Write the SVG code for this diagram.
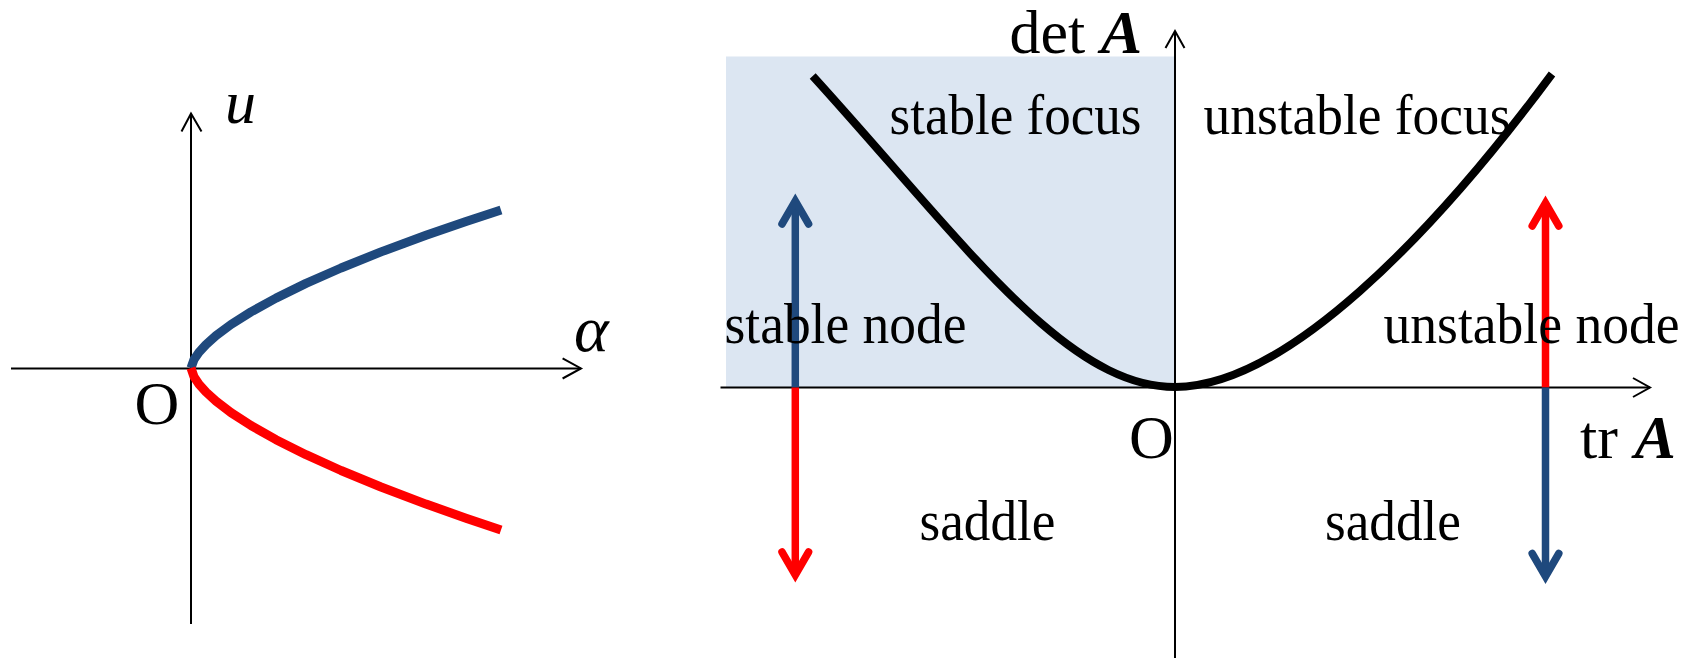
<svg xmlns="http://www.w3.org/2000/svg" width="1689" height="658" viewBox="0 0 1689 658">
<style>
.ax{stroke:#000;stroke-width:2;fill:none}
.ah{stroke:#000;stroke-width:2;fill:none;stroke-linejoin:miter}
.t{font-family:"Liberation Serif","Times New Roman",serif;fill:#000}
.lab{font-size:57px}
.big{font-size:62px}
.it{font-style:italic}
.bi{font-style:italic;font-weight:bold}
.blue{stroke:#1F497D}
.red{stroke:#FF0000}
.cv{fill:none;stroke-width:9;stroke-linejoin:round}
.sh{fill:none;stroke-width:7.5;stroke-linecap:butt}
.hd{fill:none;stroke-width:7.5;stroke-linecap:round;stroke-linejoin:miter}
</style>
<rect width="1689" height="658" fill="#fff"/>

<g id="left-panel">
  <g id="left-axes">
    <line class="ax" x1="11" y1="368.5" x2="581" y2="368.5"/>
    <polyline class="ah" points="562.6,358.3 581,368.5 562.6,378.5"/>
    <line class="ax" x1="191" y1="624" x2="191" y2="113.5"/>
    <polyline class="ah" points="181.5,131.5 191,113.5 201.5,131.5"/>
  </g>
  <g id="blue-branch">
    <polyline class="cv blue" points="191,368 194,359.5 199,352.2 206,344.6 216,335.7 231,324.5 251,311.9 276,298.1 306,283.4 341,268 381,251.9 426,235.3 466,221.5 501,210"/>
  </g>
  <g id="red-branch">
    <polyline class="cv red" points="191,368 194,376.7 199,384.2 206,392 216,401.1 231,412.6 251,425.5 276,439.7 306,454.7 341,470.5 381,487 426,504.1 466,518.2 501,530"/>
  </g>
  <text class="t big it" x="225" y="123">u</text>
  <text class="t it" font-size="66" x="574" y="351">α</text>
  <text class="t big" x="134.5" y="423.5">O</text>
</g>

<g id="right-panel">
  <rect id="stable-region" x="726" y="56.5" width="449" height="331" fill="#DCE6F2"/>
  <g id="right-axes">
    <line class="ax" x1="720.5" y1="387.5" x2="1650" y2="387.5"/>
    <polyline class="ah" points="1633,378 1650,387.5 1633,397"/>
    <line class="ax" x1="1175" y1="658" x2="1175" y2="31"/>
    <polyline class="ah" points="1165.5,48 1175,31 1184.5,48"/>
  </g>
  <g id="boundary-curve">
    <path d="M812.7,76 C962.7,241 1065,387 1175,387 C1285,387 1432,236 1552,74" fill="none" stroke="#000" stroke-width="8"/>
  </g>
  <g id="connectors">
    <g id="left-arrows">
      <line class="sh blue" x1="795.3" y1="387.5" x2="795.3" y2="202"/>
      <polyline class="hd blue" points="782,224 795.3,201 808.6,224"/>
      <line class="sh red" x1="795.3" y1="387.5" x2="795.3" y2="574"/>
      <polyline class="hd red" points="782,552 795.3,575 808.6,552"/>
    </g>
    <g id="right-arrows">
      <line class="sh red" x1="1545.5" y1="387.5" x2="1545.5" y2="204"/>
      <polyline class="hd red" points="1532.2,226 1545.5,203 1558.8,226"/>
      <line class="sh blue" x1="1545.5" y1="387.5" x2="1545.5" y2="576"/>
      <polyline class="hd blue" points="1532.2,553.5 1545.5,576.5 1558.8,553.5"/>
    </g>
  </g>
  <g id="labels">
    <text class="t big" x="1009.5" y="52.5">det <tspan class="bi">A</tspan></text>
    <text class="t big" x="1580" y="457.5">tr<tspan class="bi" x="1634.5">A</tspan></text>
    <text class="t big" x="1129" y="458">O</text>
    <text class="t lab" x="889.5" y="134.3" textLength="252" lengthAdjust="spacingAndGlyphs">stable focus</text>
    <text class="t lab" x="1203.5" y="133.5" textLength="307" lengthAdjust="spacingAndGlyphs">unstable focus</text>
    <text class="t lab" x="724.5" y="343.3" textLength="242" lengthAdjust="spacingAndGlyphs">stable node</text>
    <text class="t lab" x="1383.5" y="343.3" textLength="296" lengthAdjust="spacingAndGlyphs">unstable node</text>
    <text class="t lab" x="919.5" y="540" textLength="136" lengthAdjust="spacingAndGlyphs">saddle</text>
    <text class="t lab" x="1325" y="540" textLength="136" lengthAdjust="spacingAndGlyphs">saddle</text>
  </g>
</g>
</svg>
